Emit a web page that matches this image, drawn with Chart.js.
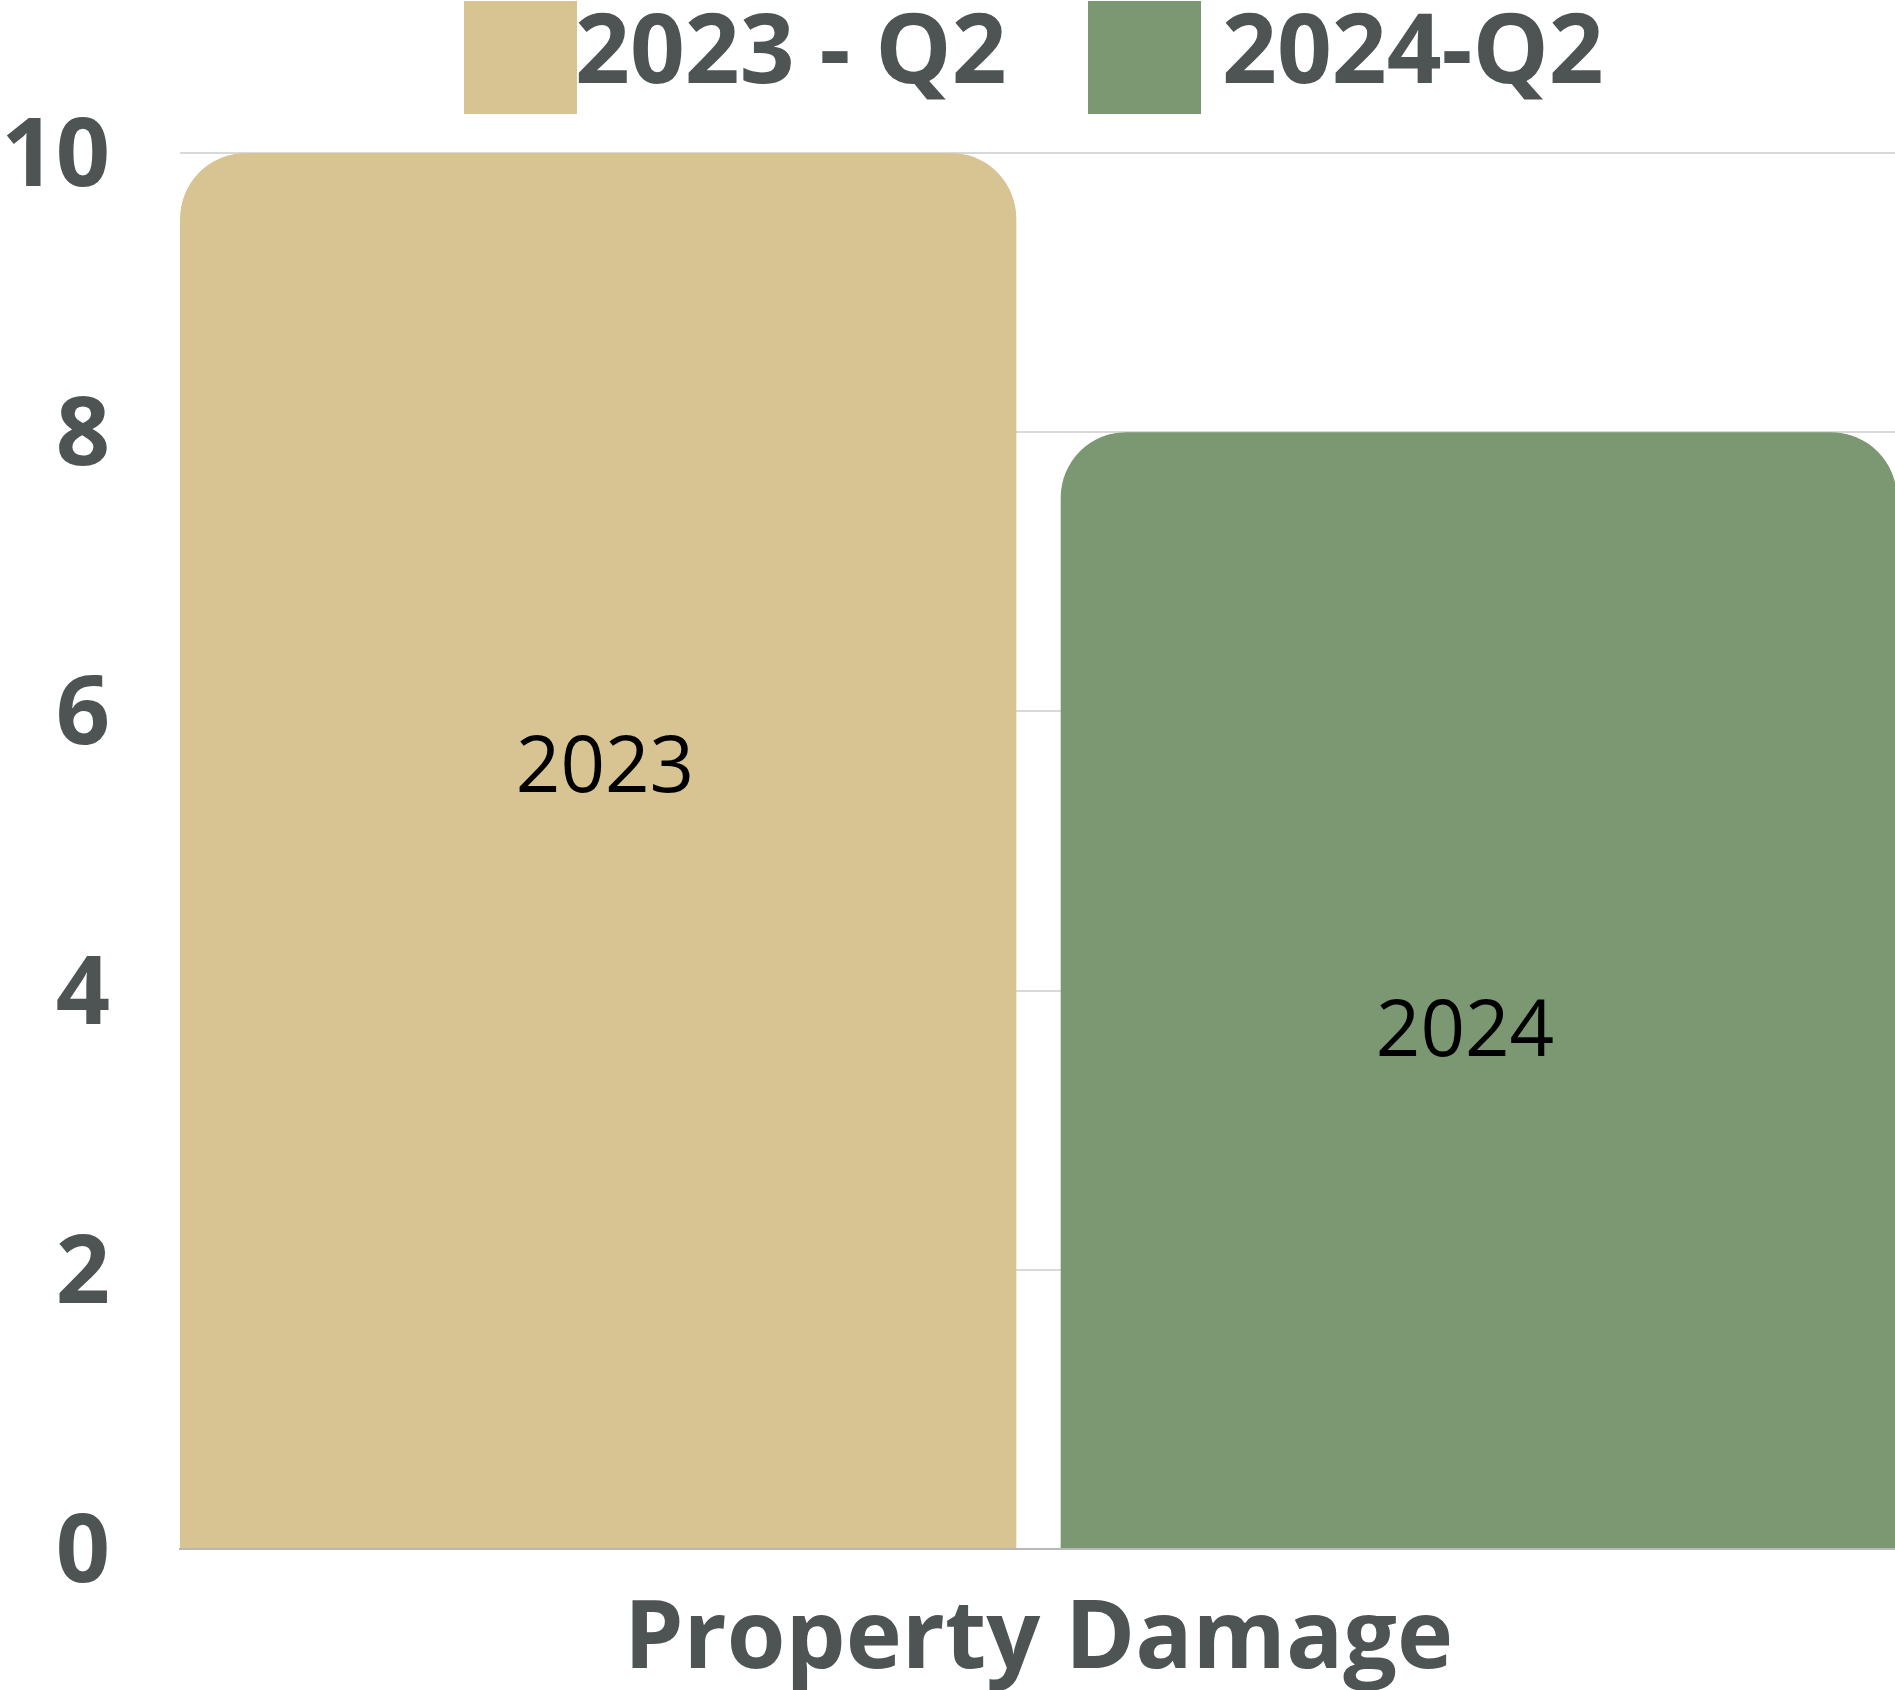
<!DOCTYPE html>
<html>
<head>
<meta charset="utf-8">
<script src="https://cdn.jsdelivr.net/npm/chart.js@4/dist/chart.umd.min.js"></script>
<style>
  html, body { margin: 0; padding: 0; background: #ffffff; overflow: hidden; }
  #wrap { position: relative; width: 1897px; height: 1690px; }
</style>
</head>
<body>
<div id="wrap"><canvas id="c"></canvas></div>
<script>
// ---- data ----
const categories = ['Property Damage'];
const seriesNames = ['2023 - Q2', '2024-Q2'];
const values2023 = [10];
const values2024 = [8];
const barLabels = ['2023', '2024'];
const yTicks = [0, 2, 4, 6, 8, 10];

// ---- styles ----
const TAN = '#d7c492';
const GREEN = '#7b9873';
const INK = '#4d5453';
const FONT = "'Open Sans', 'DejaVu Sans', sans-serif";

const legendPlugin = {
  id: 'flatLegend',
  afterDraw(chart) {
    const ctx = chart.ctx;
    const items = [
      { box: 464, text: 575 },
      { box: 1088, text: 1222 }
    ];
    ctx.save();
    ctx.font = "bold 96px " + FONT;
    ctx.textBaseline = 'alphabetic';
    ctx.textAlign = 'left';
    chart.data.datasets.forEach((ds, i) => {
      const it = items[i];
      ctx.fillStyle = ds.backgroundColor;
      ctx.fillRect(it.box, 1, 113, 113);
      ctx.fillStyle = INK;
      ctx.fillText(ds.label, it.text, 83);
    });
    ctx.restore();
  }
};

const barTextPlugin = {
  id: 'barText',
  afterDatasetsDraw(chart) {
    const ctx = chart.ctx;
    const place = [{ dx: 7, f: 0.442 }, { dx: -14, f: 0.539 }];
    ctx.save();
    ctx.font = "500 78px " + FONT;
    ctx.fillStyle = '#000000';
    ctx.textAlign = 'center';
    ctx.textBaseline = 'middle';
    chart.data.datasets.forEach((ds, i) => {
      const meta = chart.getDatasetMeta(i);
      const el = meta.data[0];
      if (!el) return;
      const p = el.getProps(['x', 'y', 'base', 'width'], true);
      const left = p.x - p.width / 2 + (i === 1 ? 22.5 : 0);
      const right = p.x + p.width / 2 - (i === 0 ? 22.5 : 0);
      const cx = (left + right) / 2 + place[i].dx;
      const cy = p.y + (p.base - p.y) * place[i].f;
      ctx.fillText(barLabels[i], cx, cy);
    });
    ctx.restore();
  }
};

new Chart(document.getElementById('c'), {
  type: 'bar',
  data: {
    labels: categories,
    datasets: [
      {
        label: seriesNames[0],
        data: values2023,
        backgroundColor: TAN,
        borderColor: 'rgba(0,0,0,0)',
        borderWidth: { top: 0, left: 0, bottom: 0, right: 22.5 },
        borderRadius: { topLeft: 66, topRight: 88.5, bottomLeft: 0, bottomRight: 0 },
        borderSkipped: 'start'
      },
      {
        label: seriesNames[1],
        data: values2024,
        backgroundColor: GREEN,
        borderColor: 'rgba(0,0,0,0)',
        borderWidth: { top: 0, left: 22.5, bottom: 0, right: 0 },
        borderRadius: { topLeft: 88.5, topRight: 66, bottomLeft: 0, bottomRight: 0 },
        borderSkipped: 'start'
      }
    ]
  },
  options: {
    responsive: true,
    maintainAspectRatio: false,
    devicePixelRatio: 1,
    animation: false,
    layout: { padding: { top: 153, left: 0, right: 0, bottom: 0 } },
    plugins: {
      legend: { display: false },
      tooltip: { enabled: false },
      title: { display: false }
    },
    datasets: {
      bar: { categoryPercentage: 1.0, barPercentage: 1.0 }
    },
    scales: {
      x: {
        afterFit(scale) { scale.height = 141; },
        grid: { display: false, drawTicks: false },
        border: { display: true, color: '#b8b8b8', width: 2 },
        ticks: {
          color: INK,
          padding: 35,
          font: { family: FONT, size: 95, weight: 'bold', lineHeight: 1.2 }
        }
      },
      y: {
        min: 0,
        max: 10,
        afterFit(scale) { scale.width = 180; },
        afterBuildTicks(scale) { scale.ticks = yTicks.map(v => ({ value: v })); },
        grid: { color: '#d9d9d9', lineWidth: 2, drawTicks: false },
        border: { display: false },
        ticks: {
          color: INK,
          padding: 70,
          labelOffset: 6,
          font: { family: FONT, size: 95, weight: 'bold', lineHeight: 1.2 }
        }
      }
    }
  },
  plugins: [legendPlugin, barTextPlugin]
});
</script>
</body>
</html>
